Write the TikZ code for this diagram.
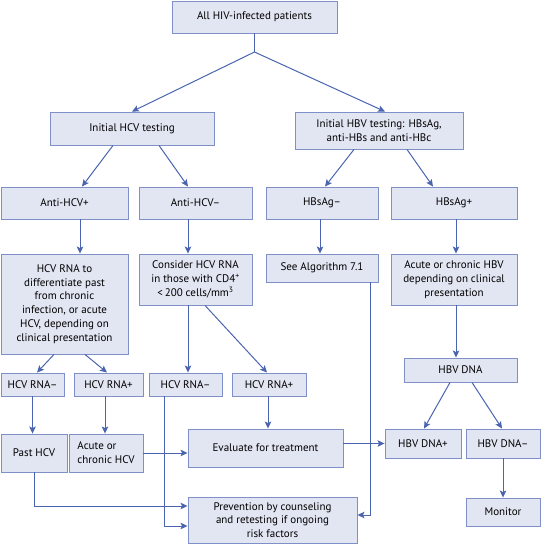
\documentclass[tikz,border=0pt]{standalone}
\usepackage{fontspec}
\setmainfont{PT Sans}
\usetikzlibrary{arrows.meta}
\definecolor{boxfill}{HTML}{E2E5F2}
\definecolor{boxline}{HTML}{7F8FC8}
\definecolor{arrowblue}{HTML}{4A64B0}

\begin{document}
\begin{tikzpicture}[x=1pt,y=-1pt,
          every node/.style={font=\fontsize{11}{13.8}\selectfont},
          box/.style={rectangle,draw=boxline,fill=boxfill,line width=.9pt,
              align=center,inner sep=2pt},
          sz/.style 2 args={minimum width=#1pt,minimum height=#2pt},
          link/.style={draw=arrowblue,line width=1pt},
          arr/.style={link,-{Stealth[length=7pt,width=6.5pt,inset=1.5pt]}}]
        \useasboundingbox (0,0) rectangle (541,545);

        % top levels
        \node[box,sz={165}{32}] (all) at (254.5,17) {All HIV-infected patients};
        \node[box,sz={164}{33}] (hcvtest) at (132,128.5) {Initial HCV testing};
        \node[box,sz={168}{37}] (hbvtest) at (379,130.5)
          {Initial HBV testing: HBsAg,\\anti-HBs and anti-HBc};
        \coordinate (split) at (254.5,52);

        \node[box,sz={127}{32}] (antipos) at (64.5,203) {Anti-HCV+};
        \node[box,sz={113}{32}] (antineg) at (195.5,203) {Anti-HCV–};
        \node[box,sz={112}{32}] (hbsneg) at (322,203) {HBsAg–};
        \node[box,sz={126}{32}] (hbspos) at (454,203) {HBsAg+};

        \node[box,sz={127}{100}] (rnadiff) at (64.5,304)
          {HCV RNA to\\differentiate past\\from chronic\\infection, or acute\\HCV, depending on\\clinical presentation};
        \node[box,sz={113}{51}] (consider) at (195.5,279.5)
          {Consider HCV RNA\\in those with CD4\textsuperscript{+}\\{<}\,200 cells/mm\textsuperscript{3}};
        \node[box,sz={112}{28}] (seealg) at (322,268) {See Algorithm 7.1};
        \node[box,sz={126}{51}] (acutehbv) at (454,279.5)
          {Acute or chronic HBV\\depending on clinical\\presentation};
        \node[box,sz={113}{24}] (hbvdna) at (460.5,370) {HBV DNA};

        \node[box,sz={63}{23}] (rnaneg1) at (32.5,384.5) {HCV RNA–};
        \node[box,sz={69}{23}] (rnapos1) at (108.5,384.5) {HCV RNA+};
        \node[box,sz={73}{23}] (rnaneg2) at (185.5,384.5) {HCV RNA–};
        \node[box,sz={74}{23}] (rnapos2) at (269,384.5) {HCV RNA+};

        % lower levels
        \node[box,sz={66}{38}] (pasthcv) at (34,453) {Past HCV};
        \node[box,sz={74}{38},align=left] (acutehcv) at (106,453) {Acute or\\chronic HCV};
        \node[box,sz={155}{38}] (evaluate) at (265.5,448) {Evaluate for treatment};
        \node[box,sz={76}{29}] (dnapos) at (423,443.5) {HBV DNA+};
        \node[box,sz={74}{29}] (dnaneg) at (503,443.5) {HBV DNA–};
        \node[box,sz={169}{46}] (prevent) at (272.5,520)
          {Prevention by counseling\\and retesting if ongoing\\risk factors};
        \node[box,sz={74}{28}] (monitor) at (503,512) {Monitor};

        \draw[link] (all.south) -- (split);
        \draw[arr] (split) -- (hcvtest.north);
        \draw[arr] (split) -- ([xshift=6pt]hbvtest.north);

        \draw[arr] ([xshift=-19pt]hcvtest.south) -- ([xshift=17.5pt]antipos.north);
        \draw[arr] ([xshift=27pt]hcvtest.south) -- ([xshift=-7.5pt]antineg.north);
        \draw[arr] ([xshift=-25pt]hbvtest.south) -- ([xshift=3pt]hbsneg.north);
        \draw[arr] ([xshift=28pt]hbvtest.south) -- ([xshift=-21pt]hbspos.north);

        \draw[arr] ([xshift=15.5pt]antipos.south) -- ([xshift=15.5pt]rnadiff.north);
        \draw[arr] ([xshift=-7.5pt]antineg.south) -- ([xshift=-7.5pt]consider.north);
        \draw[arr] ([xshift=-2pt]hbsneg.south) -- ([xshift=-2pt]seealg.north);
        \draw[arr] ([xshift=2pt]hbspos.south) -- ([xshift=2pt]acutehbv.north);
        \draw[arr] ([xshift=2pt]acutehbv.south) -- ([xshift=2pt]acutehbv.south |- hbvdna.north);

        \draw[arr] ([xshift=-10.5pt]rnadiff.south) -- ([xshift=4.5pt]rnaneg1.north);
        \draw[arr] ([xshift=20.5pt]rnadiff.south) -- ([xshift=-1.5pt]rnapos1.north);
        \draw[arr] ([xshift=-7.5pt]consider.south) -- ([xshift=-7.5pt]consider.south |- rnaneg2.north);
        \draw[arr] ([xshift=9.5pt]consider.south) -- ([xshift=-2pt]rnapos2.north);

        \draw[arr] (rnaneg1.south) -- (rnaneg1.south |- pasthcv.north);
        \draw[arr] ([xshift=-3.5pt]rnapos1.south) -- ([xshift=-3.5pt]rnapos1.south |- acutehcv.north);
        \draw[arr] ([xshift=-1pt]rnapos2.south) -- ([xshift=-1pt]rnapos2.south |- evaluate.north);
        \draw[arr] (acutehcv.east) -- (acutehcv.east -| evaluate.west);
        \draw[arr] (dnapos.west -| evaluate.east) -- (dnapos.west);

        \draw[arr] ([xshift=-21.5pt]rnaneg2.south) |- ([yshift=-6pt]prevent.west);
        \draw[arr] (pasthcv.south) |- ([yshift=14pt]prevent.west);
        \draw[arr] ([xshift=48pt]seealg.south) |- ([yshift=5pt]prevent.east);

        \draw[arr] ([xshift=-10.5pt]hbvdna.south) -- ([xshift=1pt]dnapos.north);
        \draw[arr] ([xshift=11.5pt]hbvdna.south) -- ([xshift=-1pt]dnaneg.north);
        \draw[arr] (dnaneg.south) -- (monitor.north);
      \end{tikzpicture}
\end{document}
